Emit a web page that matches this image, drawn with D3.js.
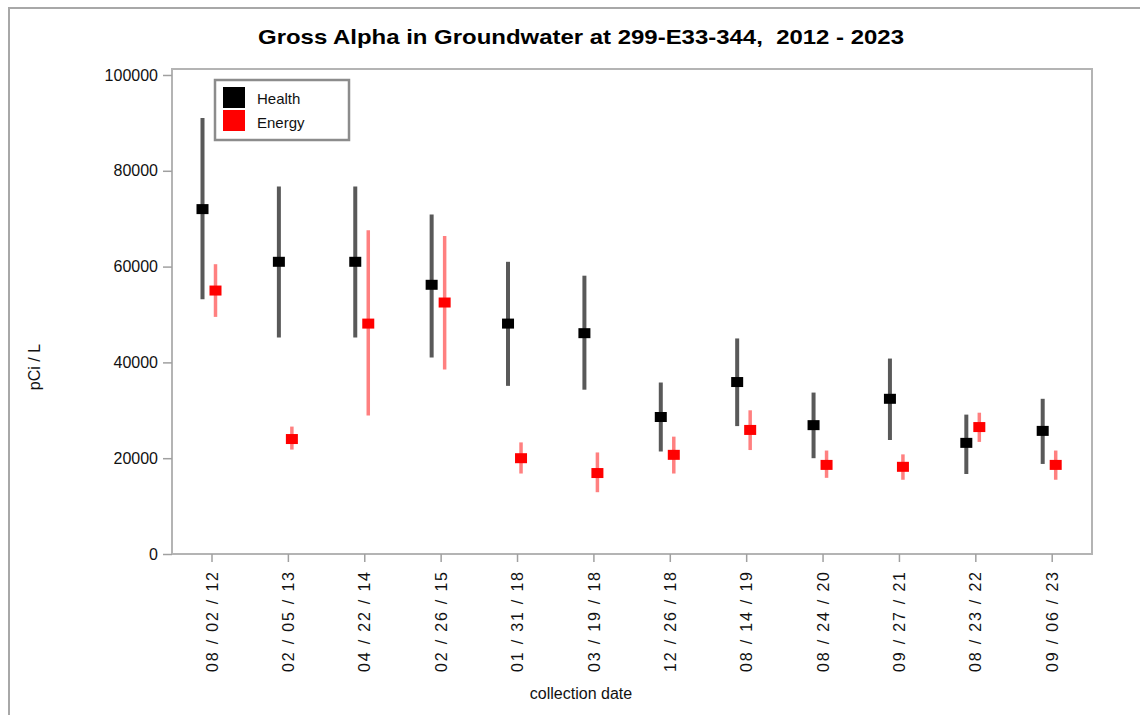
<!DOCTYPE html>
<html><head><meta charset="utf-8">
<script src="https://cdn.jsdelivr.net/npm/d3@7"></script>
<style>body{margin:0;background:#fff}svg{display:block}text{font-family:"Liberation Sans",Arial,sans-serif}</style>
</head><body><svg id="c" width="1140" height="715"></svg>
<script>
const dates = ["08 / 02 / 12","02 / 05 / 13","04 / 22 / 14","02 / 26 / 15","01 / 31 / 18","03 / 19 / 18","12 / 26 / 18","08 / 14 / 19","08 / 24 / 20","09 / 27 / 21","08 / 23 / 22","09 / 06 / 23"];
const healthValue = [72000,61000,61000,56200,48100,46100,28600,35900,26900,32400,23200,25700];
const healthHigh  = [91000,76700,76700,70900,61000,58100,35800,45000,33700,40800,29100,32400];
const healthLow   = [53200,45200,45200,41000,35100,34300,21400,26700,20000,23800,16700,18800];
const energyValue = [55000,24000,48100,52500,20000,16900,20700,25900,18600,18200,26500,18600];
const energyHigh  = [60500,26600,67600,66400,23300,21200,24500,30000,21600,20800,29500,21600];
const energyLow   = [49500,21800,28900,38500,16800,12900,16800,21700,15900,15500,23400,15500];
const yTicks = [0,20000,40000,60000,80000,100000];
const seriesNames = ["Health","Energy"];

const svg = d3.select("#c");
const L=172, R=1092, T=69, B=554;
const x = d3.scalePoint().domain(dates).range([211.5,1051.7]);
const y = d3.scaleLinear().domain([0,101250]).range([B,T]);

// outer frame
svg.append("path").attr("d","M9,715V8H1140").attr("fill","none").attr("stroke","#a8a8a8").attr("stroke-width",2);

// title
svg.append("text").attr("x",581).attr("y",44).attr("text-anchor","middle")
  .attr("font-size",21).attr("font-weight","bold").style("white-space","pre")
  .style("font-family","'Liberation Sans Narrow','Arial Narrow','Liberation Sans',sans-serif")
  .attr("textLength",646).attr("lengthAdjust","spacingAndGlyphs")
  .text("Gross Alpha in Groundwater at 299-E33-344,  2012 - 2023");

// plot border
svg.append("rect").attr("x",L).attr("y",T).attr("width",R-L).attr("height",B-T)
  .attr("fill","none").attr("stroke","#b4b4b4").attr("stroke-width",2);

// y axis
const ya = svg.append("g").attr("transform",`translate(${L},0)`)
  .call(d3.axisLeft(y).tickValues(yTicks).tickFormat(d3.format("d")).tickSize(9).tickPadding(5));
ya.select(".domain").remove();
ya.selectAll("line").attr("stroke","#a0a0a0").attr("stroke-width",1.5);
ya.selectAll("text").attr("font-size",16).attr("fill","#111").style("font-family","'Liberation Sans',Arial,sans-serif");

// x axis
const xa = svg.append("g").attr("transform",`translate(0,${B})`)
  .call(d3.axisBottom(x).tickSize(8).tickPadding(0));
xa.select(".domain").remove();
xa.selectAll("line").attr("stroke","#a0a0a0").attr("stroke-width",1.5);
xa.selectAll("text").attr("font-size",16).attr("fill","#111")
  .style("font-family","'Liberation Sans',Arial,sans-serif")
  .attr("transform","rotate(-90)").attr("text-anchor","end")
  .attr("x",-18).attr("y",0).attr("dy","0.35em")
  .attr("textLength",100).attr("lengthAdjust","spacing");

// axis titles
svg.append("text").attr("x",581).attr("y",699).attr("text-anchor","middle").attr("font-size",16).attr("fill","#111").text("collection date");
svg.append("text").attr("transform","translate(40,367) rotate(-90)").attr("text-anchor","middle").attr("font-size",16).attr("fill","#111").text("pCi / L");

// data
const series = [
  {name:"Health", v:healthValue, hi:healthHigh, lo:healthLow, off:-9, bar:"#595959", bw:4, mk:"#000"},
  {name:"Energy", v:energyValue, hi:energyHigh, lo:energyLow, off:4, bar:"#ff8080", bw:3.5, mk:"#ff0000"}
];
series.forEach(s=>{
  const g = svg.append("g");
  const d = dates.map((dt,i)=>({dt, v:s.v[i], hi:s.hi[i], lo:s.lo[i]}));
  g.selectAll("line").data(d).join("line")
    .attr("x1",p=>x(p.dt)+s.off).attr("x2",p=>x(p.dt)+s.off)
    .attr("y1",p=>y(p.hi)).attr("y2",p=>y(p.lo))
    .attr("stroke",s.bar).attr("stroke-width",s.bw);
  g.selectAll("rect").data(d).join("rect")
    .attr("x",p=>x(p.dt)+s.off-6).attr("y",p=>y(p.v)-5)
    .attr("width",12).attr("height",10).attr("fill",s.mk);
});

// legend
const lg = svg.append("g");
lg.append("rect").attr("x",215).attr("y",80).attr("width",134).attr("height",60)
  .attr("fill","#fff").attr("stroke","#8c8c8c").attr("stroke-width",2.5);
seriesNames.forEach((n,i)=>{
  lg.append("rect").attr("x",223).attr("y",87+i*23).attr("width",22).attr("height",21).attr("fill",series[i].mk);
  lg.append("text").attr("x",257).attr("y",104+i*24).attr("font-size",15).attr("fill","#111").text(n);
});
</script></body></html>
